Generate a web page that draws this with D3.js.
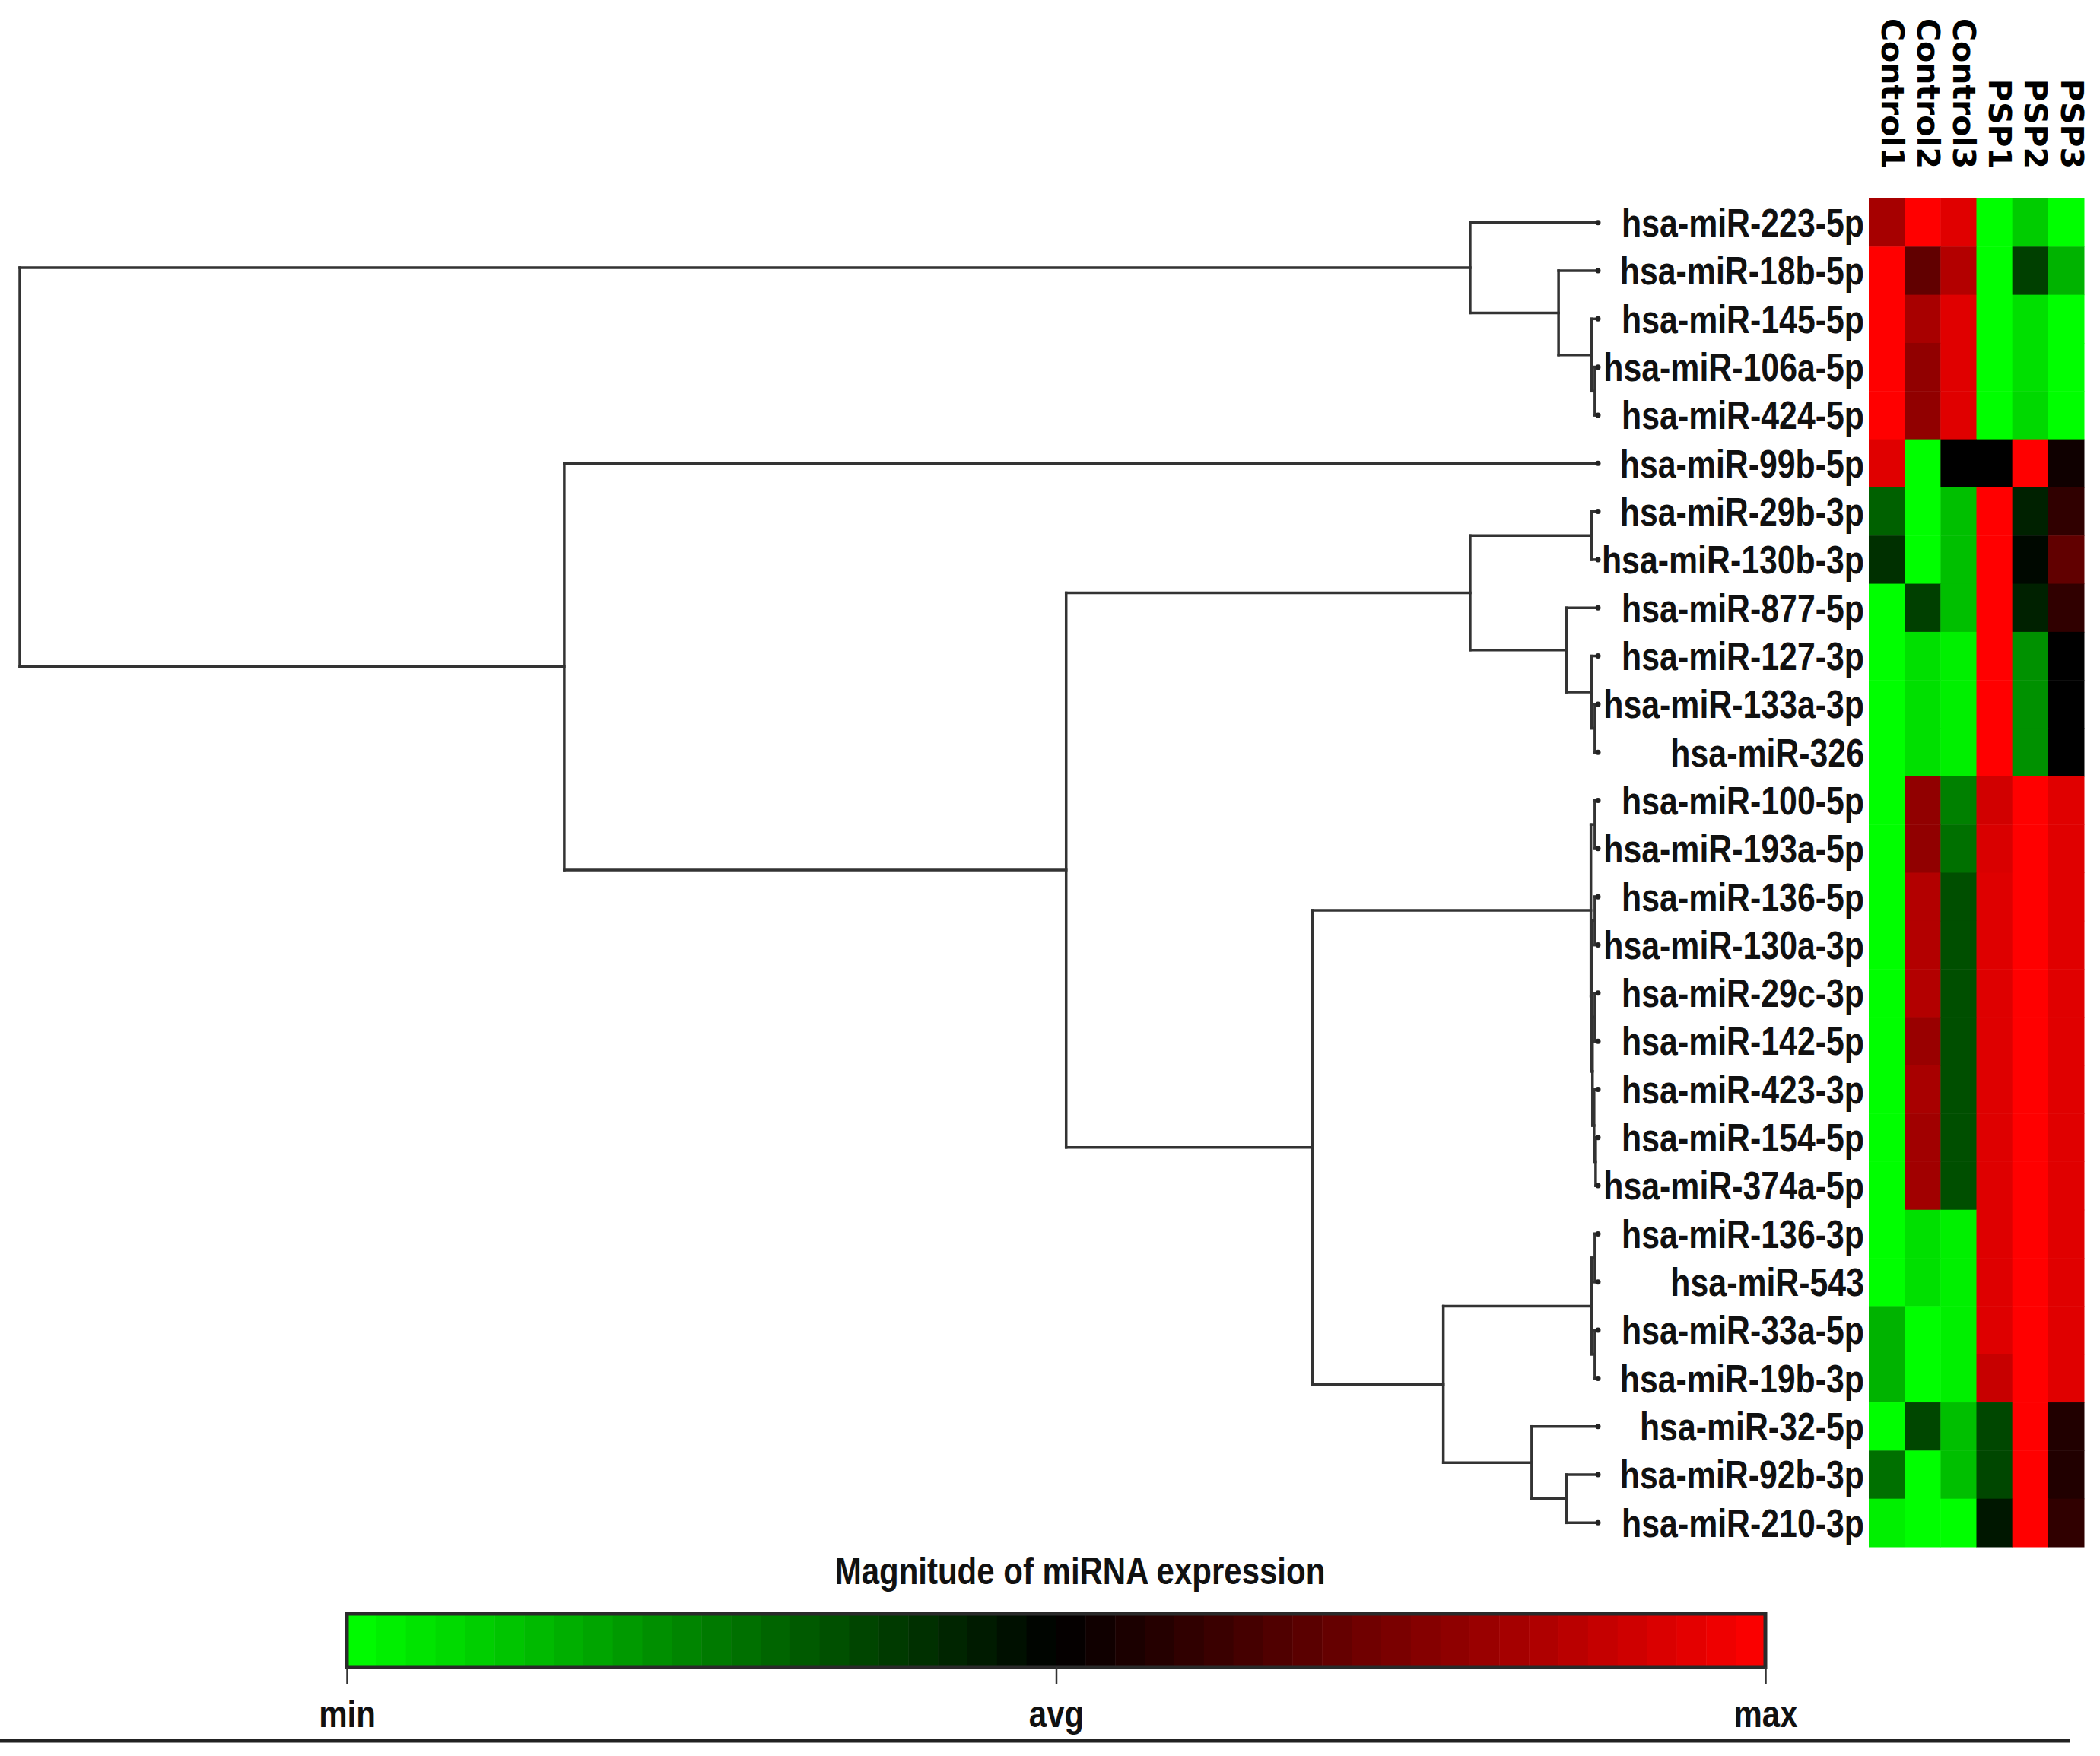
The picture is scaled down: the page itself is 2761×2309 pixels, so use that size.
<!DOCTYPE html>
<html lang="en">
<head>
    <meta charset="utf-8">
    <title>miRNA heatmap</title>
    <script src="https://cdnjs.cloudflare.com/ajax/libs/d3/7.8.5/d3.min.js"></script>
    <style>
        body { margin: 0; background: #fff; }
        .tree line { stroke: #333; stroke-width: 3.5; }
        .leafdot { fill: #222; }
        .rowlab { font-family: "Liberation Sans", Arial, sans-serif; font-weight: bold; font-size: 51px; fill: #111; }
        .collab { font-family: "DejaVu Sans", sans-serif; font-weight: bold; font-size: 41px; fill: #000; }
        .legtext { font-family: "Liberation Sans", Arial, sans-serif; font-weight: bold; font-size: 50px; fill: #111; }
    </style>
</head>
<body>
<div id="viz"></div>
<script>
    // rows (top to bottom) and samples
    var mirnas = ["hsa-miR-223-5p", "hsa-miR-18b-5p", "hsa-miR-145-5p", "hsa-miR-106a-5p", "hsa-miR-424-5p",
        "hsa-miR-99b-5p", "hsa-miR-29b-3p", "hsa-miR-130b-3p", "hsa-miR-877-5p", "hsa-miR-127-3p",
        "hsa-miR-133a-3p", "hsa-miR-326", "hsa-miR-100-5p", "hsa-miR-193a-5p", "hsa-miR-136-5p",
        "hsa-miR-130a-3p", "hsa-miR-29c-3p", "hsa-miR-142-5p", "hsa-miR-423-3p", "hsa-miR-154-5p",
        "hsa-miR-374a-5p", "hsa-miR-136-3p", "hsa-miR-543", "hsa-miR-33a-5p", "hsa-miR-19b-3p",
        "hsa-miR-32-5p", "hsa-miR-92b-3p", "hsa-miR-210-3p"];
    var samples = ["Control1", "Control2", "Control3", "PSP1", "PSP2", "PSP3"];

    // relative expression, -1 = min (green), 0 = avg (black), 1 = max (red)
    var expr = [
        [0.65, 1.0, 0.88, -1.0, -0.8, -1.0],
        [1.0, 0.38, 0.7, -1.0, -0.25, -0.7],
        [1.0, 0.66, 0.88, -1.0, -0.88, -1.0],
        [1.0, 0.57, 0.88, -1.0, -0.88, -1.0],
        [1.0, 0.57, 0.88, -1.0, -0.85, -1.0],
        [0.88, -1.0, 0.0, 0.0, 1.0, 0.06],
        [-0.38, -1.0, -0.75, 1.0, -0.13, 0.19],
        [-0.19, -1.0, -0.75, 1.0, -0.03, 0.38],
        [-1.0, -0.25, -0.75, 1.0, -0.13, 0.19],
        [-1.0, -0.88, -0.94, 1.0, -0.57, 0.0],
        [-1.0, -0.88, -0.94, 1.0, -0.57, 0.0],
        [-1.0, -0.88, -0.94, 1.0, -0.57, 0.0],
        [-1.0, 0.57, -0.5, 0.82, 1.0, 0.88],
        [-1.0, 0.57, -0.44, 0.85, 1.0, 0.88],
        [-1.0, 0.7, -0.31, 0.87, 1.0, 0.88],
        [-1.0, 0.7, -0.31, 0.87, 1.0, 0.88],
        [-1.0, 0.7, -0.31, 0.87, 1.0, 0.88],
        [-1.0, 0.6, -0.31, 0.87, 1.0, 0.88],
        [-1.0, 0.66, -0.31, 0.87, 1.0, 0.88],
        [-1.0, 0.63, -0.31, 0.87, 1.0, 0.88],
        [-1.0, 0.63, -0.31, 0.87, 1.0, 0.88],
        [-1.0, -0.88, -0.94, 0.87, 1.0, 0.88],
        [-1.0, -0.88, -0.94, 0.87, 1.0, 0.88],
        [-0.7, -1.0, -0.94, 0.87, 1.0, 0.88],
        [-0.7, -1.0, -0.94, 0.78, 1.0, 0.88],
        [-1.0, -0.28, -0.75, -0.28, 1.0, 0.13],
        [-0.44, -1.0, -0.75, -0.28, 1.0, 0.13],
        [-0.94, -1.0, -1.0, -0.09, 1.0, 0.19]
    ];

    // linkage: [child, child, height]; ids < 28 are rows, id 28+i is merges[i]
    var merges = [
        [3, 4, 0.2], [2, 28, 0.4], [1, 29, 2.5], [0, 30, 8.1],
        [6, 7, 0.4], [10, 11, 0.2], [9, 33, 0.4], [8, 34, 2.0], [32, 35, 8.1],
        [12, 13, 0.2], [14, 15, 0.2], [16, 17, 0.2], [19, 20, 0.15], [18, 40, 0.25],
        [39, 41, 0.35], [38, 42, 0.4], [37, 43, 0.45],
        [21, 22, 0.2], [23, 24, 0.2], [45, 46, 0.4],
        [26, 27, 2.0], [25, 48, 4.2], [47, 49, 9.8],
        [44, 50, 18.1], [36, 51, 33.7], [5, 52, 65.5], [31, 53, 100]
    ];

    var legendTicks = ["min", "avg", "max"];

    var W = 2761, H = 2309;
    var narrow = 0.84;   // horizontal squeeze to mimic the condensed label font
    var svg = d3.select("#viz").append("svg")
        .attr("width", W).attr("height", H)
        .style("display", "block");

    var heat = {x0: 2457, x1: 2740, y0: 261, y1: 2034};

    var xCol = d3.scaleBand().domain(samples).range([heat.x0, heat.x1]);
    var yRow = d3.scaleBand().domain(mirnas).range([heat.y0, heat.y1]);
    var color = d3.scaleLinear().domain([-1, 0, 1]).range(["#00ff00", "#000000", "#ff0000"]);
    var xDist = d3.scaleLinear().domain([0, 100]).range([2101, 26]);

    // heatmap cells
    svg.append("g").selectAll("g")
        .data(expr)
        .join("g")
        .each(function(row, i) {
            d3.select(this).selectAll("rect")
                .data(row)
                .join("rect")
                .attr("x", (v, j) => xCol(samples[j]))
                .attr("y", yRow(mirnas[i]))
                .attr("width", xCol.bandwidth() + 0.5)
                .attr("height", yRow.bandwidth() + 0.5)
                .attr("fill", v => color(v));
        });

    // column labels
    svg.append("g").selectAll("text")
        .data(samples)
        .join("text")
        .attr("class", "collab")
        .attr("transform", d => "translate(" + (xCol(d) + xCol.bandwidth() / 2 + 8) + ",222) rotate(90)")
        .attr("text-anchor", "end")
        .attr("dy", "0.36em")
        .text(d => d);

    // dendrogram
    var n = mirnas.length;
    var nodeY = [], nodeH = [];
    mirnas.forEach(function(m, i) {
        nodeY[i] = yRow(m) + yRow.bandwidth() / 2;
        nodeH[i] = 0;
    });
    merges.forEach(function(m, k) {
        nodeY[n + k] = (nodeY[m[0]] + nodeY[m[1]]) / 2;
        nodeH[n + k] = m[2];
    });

    var segs = [];
    merges.forEach(function(m) {
        var x = xDist(m[2]);
        segs.push([x, nodeY[m[0]], x, nodeY[m[1]]]);
        segs.push([x, nodeY[m[0]], xDist(nodeH[m[0]]), nodeY[m[0]]]);
        segs.push([x, nodeY[m[1]], xDist(nodeH[m[1]]), nodeY[m[1]]]);
    });

    var tree = svg.append("g").attr("class", "tree");
    tree.selectAll("line")
        .data(segs)
        .join("line")
        .attr("x1", d => d[0]).attr("y1", d => d[1])
        .attr("x2", d => d[2]).attr("y2", d => d[3])
        .attr("stroke-linecap", "square");

    tree.selectAll("circle")
        .data(mirnas)
        .join("circle")
        .attr("class", "leafdot")
        .attr("cx", xDist(0))
        .attr("cy", (d, i) => nodeY[i])
        .attr("r", 3.5);

    // row labels (drawn over the leaf ends, as in the original)
    svg.append("g").selectAll("text")
        .data(mirnas)
        .join("text")
        .attr("class", "rowlab")
        .attr("transform", d => "translate(2451," + (yRow(d) + yRow.bandwidth() / 2) + ") scale(" + narrow + ",1)")
        .attr("dy", "0.36em")
        .attr("text-anchor", "end")
        .text(d => d);

    // colour legend
    var bar = {x0: 456, x1: 2321, y0: 2122, y1: 2192};
    var xLeg = d3.scaleLinear().domain([-1, 1]).range([bar.x0, bar.x1]);
    var nSteps = 48;
    var steps = d3.range(nSteps).map(i => -1 + 2 * i / nSteps);

    var leg = svg.append("g");
    leg.append("text")
        .attr("class", "legtext")
        .attr("transform", "translate(1420,2083) scale(" + narrow + ",1)")
        .attr("text-anchor", "middle")
        .text("Magnitude of miRNA expression");

    leg.selectAll("rect.step")
        .data(steps)
        .join("rect")
        .attr("class", "step")
        .attr("x", d => xLeg(d))
        .attr("y", bar.y0)
        .attr("width", (bar.x1 - bar.x0) / nSteps + 0.5)
        .attr("height", bar.y1 - bar.y0)
        .attr("fill", d => color(d + 1 / nSteps));

    leg.append("rect")
        .attr("x", bar.x0).attr("y", bar.y0)
        .attr("width", bar.x1 - bar.x0).attr("height", bar.y1 - bar.y0)
        .attr("fill", "none")
        .attr("stroke", "#2a2a2a")
        .attr("stroke-width", 5);

    var axis = d3.axisBottom(xLeg)
        .tickValues([-1, 0, 1])
        .tickFormat((d, i) => legendTicks[i])
        .tickSize(22)
        .tickPadding(22);

    var gAx = leg.append("g")
        .attr("transform", "translate(0," + bar.y1 + ")")
        .call(axis);
    gAx.select(".domain").remove();
    gAx.selectAll(".tick line").attr("stroke", "#333").attr("stroke-width", 2.5);
    gAx.selectAll(".tick text")
        .attr("class", "legtext")
        .attr("fill", "#111")
        .attr("transform", "scale(" + narrow + ",1)")
        .style("font-size", "50px");

    // rule at the bottom
    svg.append("line")
        .attr("x1", 0).attr("x2", 2721)
        .attr("y1", 2289).attr("y2", 2289)
        .attr("stroke", "#222")
        .attr("stroke-width", 5);
</script>
</body>
</html>
